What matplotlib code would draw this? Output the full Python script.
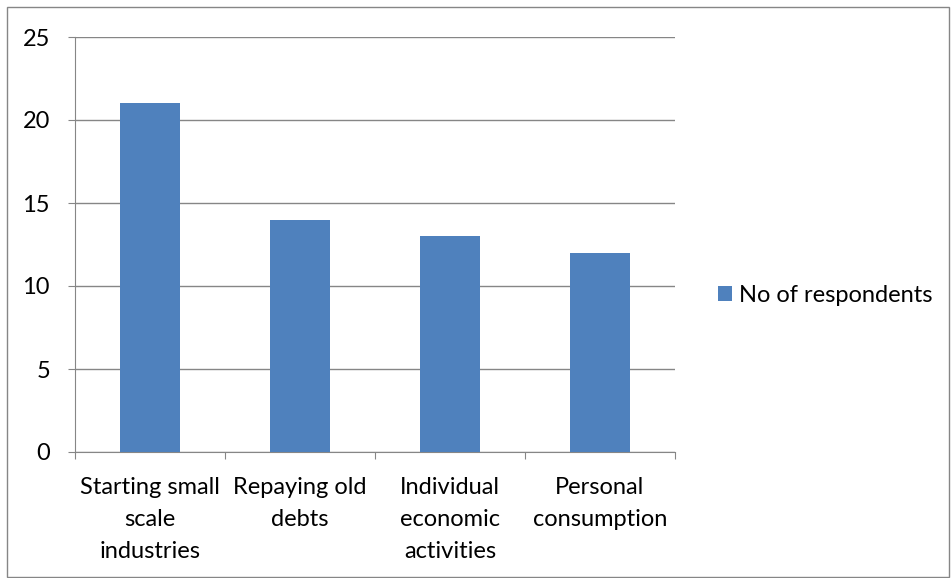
import matplotlib.pyplot as plt
from matplotlib.patches import Rectangle

# purposes of loan use and respondent counts
purposes = ["Starting small\nscale\nindustries", "Repaying old\ndebts",
            "Individual\neconomic\nactivities", "Personal\nconsumption"]
respondents = [21, 14, 13, 12]
yticks = [0, 5, 10, 15, 20, 25]

plt.rcParams['font.family'] = ['Lato', 'DejaVu Sans']
plt.rcParams['font.size'] = 17

fig = plt.figure(figsize=(9.52, 5.78), dpi=100)
ax = fig.add_axes([75/952, 126/578, 600/952, 415/578])

grey = '#868686'
x = range(len(purposes))
ax.bar(x, respondents, width=0.4, color='#4f81bd', label='No of respondents', zorder=3)

ax.set_ylim(0, 25)
ax.set_yticks(yticks)
ax.set_xlim(-0.5, len(purposes) - 0.5)
ax.yaxis.grid(True, color=grey, linewidth=1, zorder=0)

# ticks on the x axis sit between the categories
ax.set_xticks([i - 0.5 for i in range(len(purposes) + 1)])
ax.set_xticklabels([])
ax.set_xticks(list(x), minor=True)
ax.set_xticklabels(purposes, minor=True, linespacing=1.65)
ax.tick_params(axis='x', which='minor', length=0, pad=18)
ax.tick_params(axis='x', which='major', length=5, color=grey, direction='out')
ax.tick_params(axis='y', length=5, color=grey, pad=13)

for s in ['top', 'right']:
    ax.spines[s].set_visible(False)
for s in ['left', 'bottom']:
    ax.spines[s].set_color(grey)

ax.legend(loc='center left', bbox_to_anchor=(1.072, 0.378), frameon=False,
          handlelength=0.6, handleheight=0.6, handletextpad=0.3,
          borderaxespad=0, borderpad=0)

# outer chart border
fig.patches.append(Rectangle((7/952, 1/578), 942/952, 570/578, transform=fig.transFigure,
                             fill=False, edgecolor=grey, linewidth=1))

fig.savefig('out.png', dpi=100)
